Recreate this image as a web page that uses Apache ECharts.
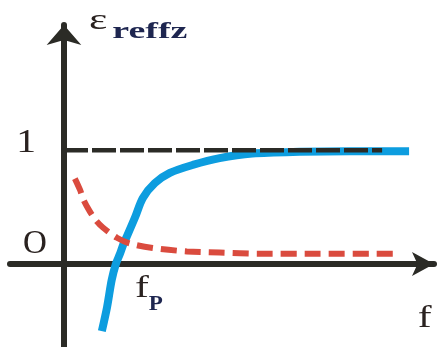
<!DOCTYPE html>
<html>
<head>
<meta charset="utf-8">
<script src="https://cdn.jsdelivr.net/npm/echarts@6/dist/echarts.min.js"></script>
<style>
  html, body { margin: 0; padding: 0; background: #fff; }
  #chart { width: 445px; height: 347px; }
</style>
</head>
<body>
<div id="chart"></div>
<script>
// Frequency in units of the plasma frequency fp, permittivity dimensionless.
const blueF   = [0.73, 0.83, 0.92, 1.00, 1.08, 1.15, 1.21, 1.37, 1.52, 1.75, 2.04, 2.48, 3.00, 3.63, 4.54, 5.50, 6.65];
const blueEps = [-0.59, -0.38, -0.14, 0.00, 0.09, 0.18, 0.24, 0.41, 0.58, 0.71, 0.80, 0.87, 0.93, 0.97, 0.985, 0.99, 0.99];

const redF   = [0.21, 0.31, 0.38, 0.50, 0.62, 0.75, 1.02, 1.27, 1.71, 2.37, 3.00, 3.77, 4.92, 6.37];
const redEps = [0.75, 0.65, 0.56, 0.46, 0.38, 0.32, 0.23, 0.18, 0.14, 0.11, 0.10, 0.09, 0.09, 0.09];

const unityF   = [0, 6.13];
const unityEps = [1, 1];

const xRange = [-1.04, 7.13];
const yRange = [-0.73, 2.10];

const zip = (xs, ys) => xs.map((x, i) => [x, ys[i]]);

const axisColor = '#2b2b26';
const textColor = '#2a2220';
const serif = '"Liberation Serif", "DejaVu Serif", serif';

const chart = echarts.init(document.getElementById('chart'), null, { renderer: 'canvas' });

chart.setOption({
  animation: false,
  backgroundColor: '#ffffff',
  grid: { left: 10, right: 11, top: 25, bottom: 0 },
  xAxis: {
    type: 'value', min: xRange[0], max: xRange[1],
    axisLine: { show: true, onZero: true, symbol: ['none', 'arrow'], symbolSize: [18, 22],
      lineStyle: { color: axisColor, width: 6 } },
    axisTick: { show: false }, axisLabel: { show: false }, splitLine: { show: false }
  },
  yAxis: {
    type: 'value', min: yRange[0], max: yRange[1],
    axisLine: { show: true, onZero: true, symbol: ['none', 'arrow'], symbolSize: [26, 20],
      lineStyle: { color: axisColor, width: 6 } },
    axisTick: { show: false }, axisLabel: { show: false }, splitLine: { show: false }
  },
  series: [
    {
      type: 'line', name: 'eps', data: zip(blueF, blueEps), smooth: 0.3,
      showSymbol: false, symbol: 'none', z: 3,
      lineStyle: { color: '#0d9ddf', width: 8, cap: 'butt' }
    },
    {
      type: 'line', name: 'unity', data: zip(unityF, unityEps),
      showSymbol: false, symbol: 'none', z: 4,
      lineStyle: { color: axisColor, width: 4.5, type: [24, 4], cap: 'butt' }
    },
    {
      type: 'line', name: 'loss', data: zip(redF, redEps), smooth: 0.3,
      showSymbol: false, symbol: 'none', z: 5,
      lineStyle: { color: '#da4b3e', width: 6, type: [16, 8], cap: 'butt' }
    }
  ]
});

// Annotation texts, anchored in data coordinates.
const notes = [
  { text: '1',     at: [-0.73, 1.06],  size: 33, sx: 1.2, align: 'center', color: textColor, weight: 'normal' },
  { text: 'O',     at: [-0.56, 0.17],  size: 33, sx: 1.0, align: 'center', color: textColor, weight: 'normal' },
  { text: 'ε',     at: [0.66, 2.13],   size: 29, sx: 1.5, align: 'center', color: textColor, weight: 'normal' },
  { text: 'reffz', at: [0.93, 2.04],   size: 23, sx: 1.65, align: 'left',  color: '#1e2650', weight: 'bold' },
  { text: 'f',     at: [1.50, -0.22],  size: 32, sx: 1.3, align: 'center', color: textColor, weight: 'normal' },
  { text: 'P',     at: [1.77, -0.36],  size: 21, sx: 1.1, align: 'center', color: '#1e2650', weight: 'bold' },
  { text: 'f',     at: [6.95, -0.48],  size: 32, sx: 1.3, align: 'center', color: textColor, weight: 'normal' }
];

chart.setOption({
  graphic: notes.map(n => {
    const p = chart.convertToPixel({ gridIndex: 0 }, n.at);
    return {
      type: 'text', x: p[0], y: p[1], scaleX: n.sx, z: 10,
      style: {
        text: n.text, fill: n.color, font: n.weight + ' ' + n.size + 'px ' + serif,
        align: n.align, verticalAlign: 'middle'
      }
    };
  })
});
</script>
</body>
</html>
